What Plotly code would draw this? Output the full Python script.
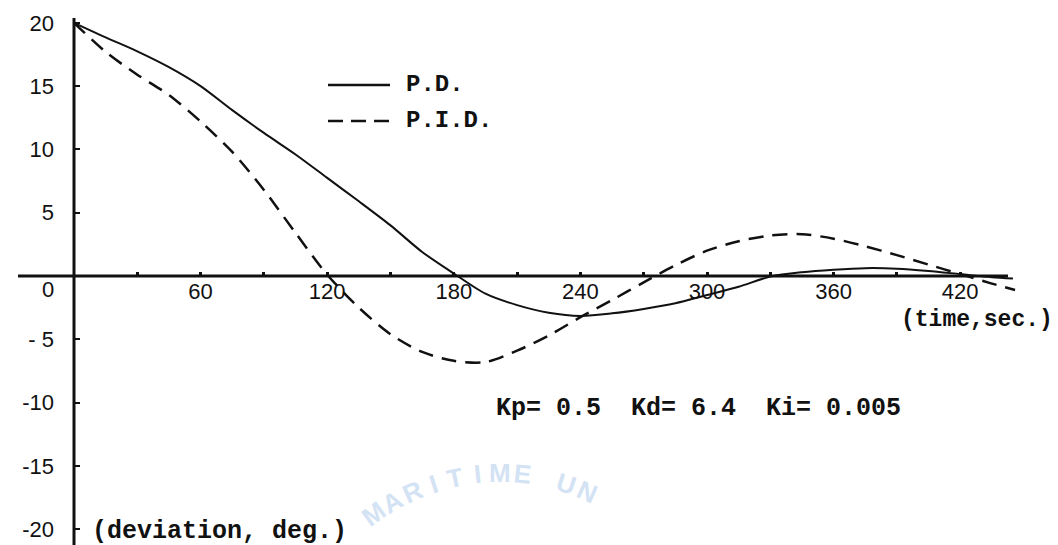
import math
import plotly.graph_objects as go

# ---------------- data ----------------
time_pd = [0, 15, 30, 45, 60, 75, 90, 105, 120, 135, 150, 165, 180, 195, 210,
           225, 240, 255, 270, 285, 300, 315, 330, 345, 360, 375, 390, 405,
           420, 435, 445]
pd_dev = [20.0, 18.85, 17.75, 16.5, 15.0, 13.1, 11.3, 9.6, 7.75, 5.9, 4.0,
          1.9, 0.2, -1.4, -2.3, -2.9, -3.15, -2.95, -2.6, -2.15, -1.5, -0.85,
          -0.05, 0.3, 0.5, 0.62, 0.58, 0.4, 0.15, -0.1, -0.2]

time_pid = [0, 15, 30, 45, 60, 75, 90, 105, 120, 135, 150, 165, 180, 195,
            210, 225, 240, 255, 270, 285, 300, 315, 330, 345, 360, 375, 390,
            405, 420, 435, 446]
pid_dev = [20.0, 17.7, 15.9, 14.3, 12.2, 9.8, 6.8, 3.4, 0.1, -2.5, -4.6,
           -6.0, -6.7, -6.8, -5.9, -4.7, -3.25, -1.9, -0.5, 0.85, 2.0, 2.75,
           3.2, 3.3, 2.95, 2.35, 1.65, 0.9, 0.15, -0.6, -1.1]

x_tick_vals = [30, 60, 90, 120, 150, 180, 210, 240, 270, 300, 330, 360, 390, 420]
x_tick_text = ["", "60", "", "120", "", "180", "", "240", "", "300", "", "360", "", "420"]
y_tick_vals = [20, 15, 10, 5, -5, -10, -15, -20]
y_tick_text = ["20", "15", "10", "5", "- 5", "-10", "-15", "-20"]

series_names = ["P.D.", "P.I.D."]
x_axis_title = "(time,sec.)"
y_axis_title = "(deviation, deg.)"
gains_text = "Kp= 0.5  Kd= 6.4  Ki= 0.005"
watermark = "MARITIME UN"

# ---------------- geometry ----------------
W, H = 1058, 545
PX_X, PX_Y = 2.11, 12.66          # pixels per second / per degree
X0_PX, Y0_PX = 66, 268            # pixel position of the origin
x_range = [-X0_PX / PX_X, (W - X0_PX) / PX_X]
y_range = [-(H - Y0_PX) / PX_Y, Y0_PX / PX_Y]


def px_to_x(px):
    return x_range[0] + px / PX_X


def py_to_y(py):
    return y_range[1] - py / PX_Y


def paper_x(px):
    return px / W


def paper_y(py):
    return 1 - py / H


MONO = "Liberation Mono"
SANS = "Liberation Sans"
INK = "#111111"

fig = go.Figure()
fig.add_trace(go.Scatter(x=time_pd, y=pd_dev, mode="lines", name=series_names[0],
                         line=dict(color=INK, width=2, shape="spline", smoothing=0.8),
                         cliponaxis=False, showlegend=False))
fig.add_trace(go.Scatter(x=time_pid, y=pid_dev, mode="lines", name=series_names[1],
                         line=dict(color=INK, width=2.5, dash="15px,9px",
                                   shape="spline", smoothing=0.8),
                         cliponaxis=False, showlegend=False))

shapes = [
    # x axis line
    dict(type="line", xref="x", yref="y", x0=px_to_x(10), x1=px_to_x(1000), y0=0, y1=0,
         line=dict(color=INK, width=3)),
    # y axis line
    dict(type="line", xref="x", yref="y", x0=0, x1=0, y0=py_to_y(10), y1=y_range[0],
         line=dict(color=INK, width=3)),
    # legend samples
    dict(type="line", xref="paper", yref="paper", x0=paper_x(320), x1=paper_x(382),
         y0=paper_y(77), y1=paper_y(77), line=dict(color=INK, width=2.5)),
    dict(type="line", xref="paper", yref="paper", x0=paper_x(320), x1=paper_x(382),
         y0=paper_y(113), y1=paper_y(113), line=dict(color=INK, width=2.5, dash="15px,8px")),
]

annotations = [
    dict(text=series_names[0], x=paper_x(396), y=paper_y(77), xref="paper", yref="paper",
         xanchor="left", yanchor="middle", showarrow=False,
         font=dict(family=MONO, size=24, color=INK, weight="bold")),
    dict(text=series_names[1], x=paper_x(396), y=paper_y(113), xref="paper", yref="paper",
         xanchor="left", yanchor="middle", showarrow=False,
         font=dict(family=MONO, size=24, color=INK, weight="bold")),
    dict(text=x_axis_title, x=px_to_x(1047), y=py_to_y(312), xref="x", yref="y",
         xanchor="right", yanchor="middle", showarrow=False,
         font=dict(family=MONO, size=23, color=INK, weight="bold")),
    dict(text=y_axis_title, x=px_to_x(82), y=py_to_y(523), xref="x", yref="y",
         xanchor="left", yanchor="middle", showarrow=False,
         font=dict(family=MONO, size=25, color=INK, weight="bold")),
    dict(text=gains_text, x=px_to_x(486), y=py_to_y(400), xref="x", yref="y",
         xanchor="left", yanchor="middle", showarrow=False,
         font=dict(family=MONO, size=25, color=INK, weight="bold")),
    dict(text="0", x=px_to_x(40), y=py_to_y(281), xref="x", yref="y",
         xanchor="center", yanchor="middle", showarrow=False,
         font=dict(family=SANS, size=22, color=INK)),
]

# faint arched watermark at the bottom
cx, cy, r = 492, 680, 215
for i, ch in enumerate(watermark):
    if ch == " ":
        continue
    ang = (i - 6.0) * 6.0
    px = cx + r * math.sin(math.radians(ang))
    py = cy - r * math.cos(math.radians(ang))
    annotations.append(dict(text=ch, x=paper_x(px), y=paper_y(py), xref="paper", yref="paper",
                            xanchor="center", yanchor="middle", showarrow=False,
                            textangle=ang,
                            font=dict(family=SANS, size=26, color="#d3e3f4", weight="bold")))

fig.update_layout(
    width=W, height=H,
    margin=dict(l=0, r=0, t=0, b=0),
    paper_bgcolor="white", plot_bgcolor="white",
    shapes=shapes, annotations=annotations,
    showlegend=False,
    xaxis=dict(range=x_range, anchor="free",
               position=(0 - y_range[0]) / (y_range[1] - y_range[0]),
               tickmode="array", tickvals=x_tick_vals, ticktext=x_tick_text,
               ticks="inside", ticklen=4, tickwidth=3, tickcolor=INK,
               tickfont=dict(family=SANS, size=22, color=INK),
               showgrid=False, zeroline=False, showline=False, automargin=False),
    yaxis=dict(range=y_range, anchor="free",
               position=(0 - x_range[0]) / (x_range[1] - x_range[0]),
               tickmode="array", tickvals=y_tick_vals, ticktext=y_tick_text,
               ticks="inside", ticklen=5, tickwidth=2, tickcolor=INK,
               ticklabelstandoff=20,
               tickfont=dict(family=SANS, size=22, color=INK),
               showgrid=False, zeroline=False, showline=False, automargin=False),
)

fig.write_html("out.html")
